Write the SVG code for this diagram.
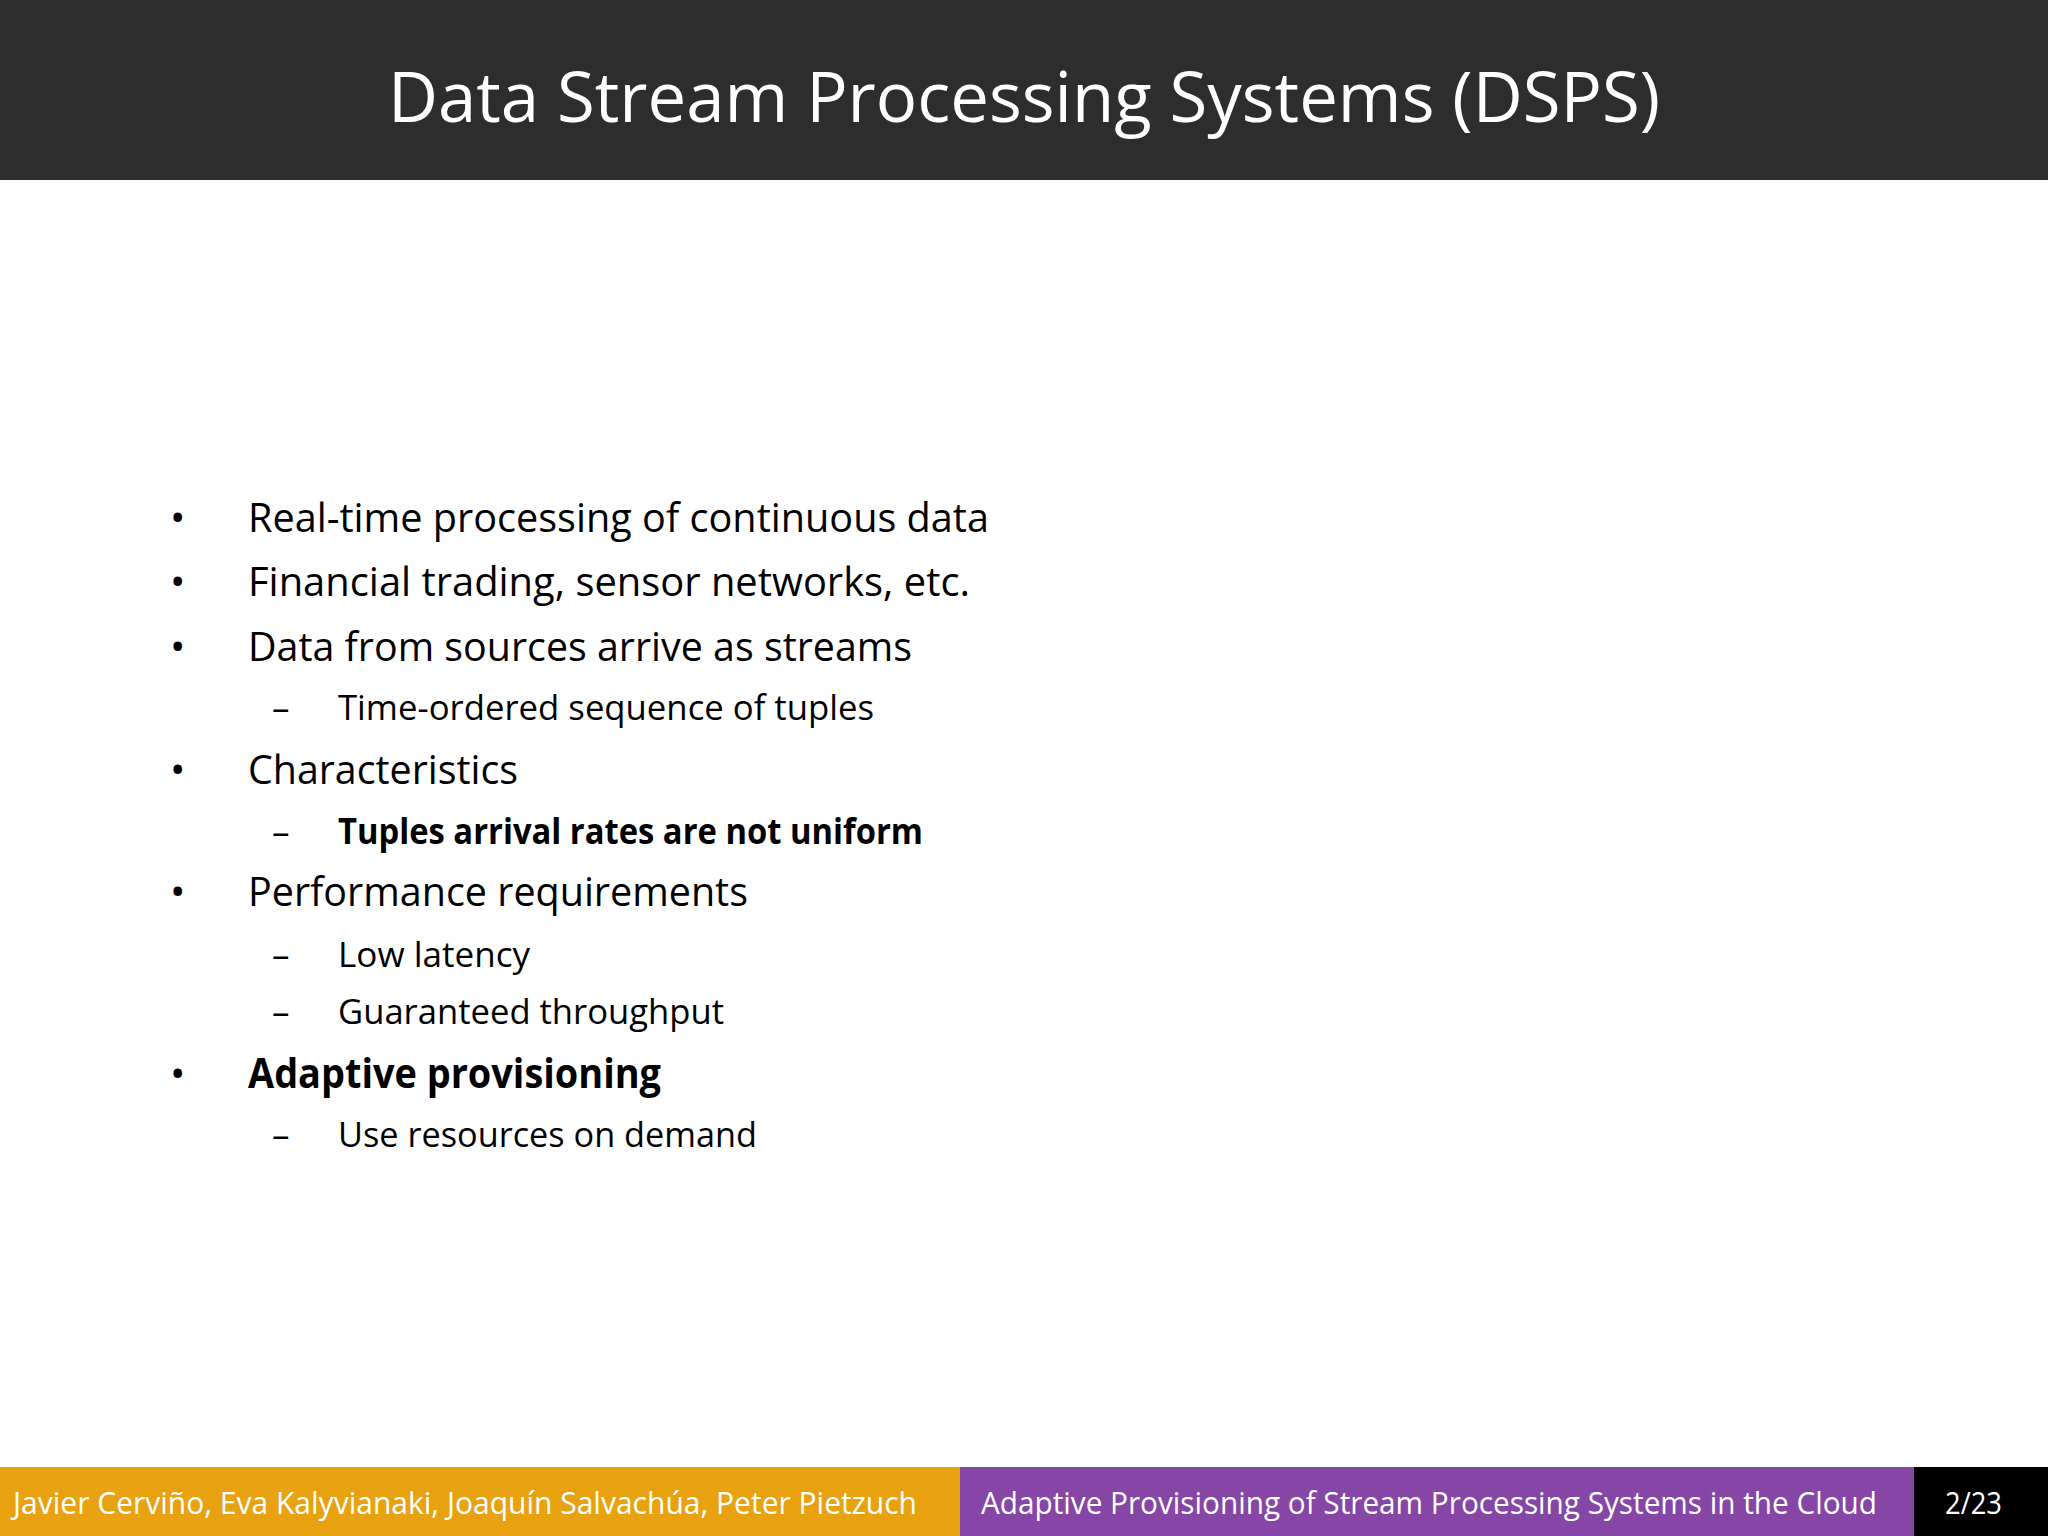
<svg xmlns="http://www.w3.org/2000/svg" width="2048" height="1536" viewBox="0 0 2048 1536">
<style>
text{font-family:"Open Sans","Noto Sans",sans-serif;}
.b{font-size:41px;fill:#000}
.s{font-size:35px;fill:#000}
.f{font-size:31px;fill:#fff}
</style>
<rect width="2048" height="1536" fill="#fff"/>
<rect width="2048" height="180" fill="#2d2d2d"/>
<text x="1024" y="122" text-anchor="middle" font-size="70" fill="#fff" textLength="1272" lengthAdjust="spacingAndGlyphs">Data Stream Processing Systems (DSPS)</text>
<g id="bullets">
<text class="b" x="170" y="532">•</text><text class="b" x="248" y="532" textLength="741" lengthAdjust="spacingAndGlyphs">Real-time processing of continuous data</text>
<text class="b" x="170" y="596">•</text><text class="b" x="248" y="596" textLength="722" lengthAdjust="spacingAndGlyphs">Financial trading, sensor networks, etc.</text>
<text class="b" x="170" y="661">•</text><text class="b" x="248" y="661" textLength="664" lengthAdjust="spacingAndGlyphs">Data from sources arrive as streams</text>
<text class="s" x="272" y="720">–</text><text class="s" x="338" y="720" textLength="536" lengthAdjust="spacingAndGlyphs">Time-ordered sequence of tuples</text>
<text class="b" x="170" y="784">•</text><text class="b" x="248" y="784" textLength="270" lengthAdjust="spacingAndGlyphs">Characteristics</text>
<text class="s" x="272" y="844">–</text><text class="s" x="338" y="844" font-weight="bold" textLength="585" lengthAdjust="spacingAndGlyphs">Tuples arrival rates are not uniform</text>
<text class="b" x="170" y="906">•</text><text class="b" x="248" y="906" textLength="500" lengthAdjust="spacingAndGlyphs">Performance requirements</text>
<text class="s" x="272" y="967">–</text><text class="s" x="338" y="967" textLength="192" lengthAdjust="spacingAndGlyphs">Low latency</text>
<text class="s" x="272" y="1024">–</text><text class="s" x="338" y="1024" textLength="386" lengthAdjust="spacingAndGlyphs">Guaranteed throughput</text>
<text class="b" x="170" y="1088">•</text><text class="b" x="248" y="1088" font-weight="bold" textLength="413" lengthAdjust="spacingAndGlyphs">Adaptive provisioning</text>
<text class="s" x="272" y="1147">–</text><text class="s" x="338" y="1147" textLength="419" lengthAdjust="spacingAndGlyphs">Use resources on demand</text>
</g>
<g id="footer">
<rect x="0" y="1467" width="960" height="69" fill="#e9a20f"/>
<rect x="960" y="1467" width="954" height="69" fill="#8646a6"/>
<rect x="1914" y="1467" width="134" height="69" fill="#000"/>
<text class="f" x="13" y="1514" textLength="904" lengthAdjust="spacingAndGlyphs">Javier Cerviño, Eva Kalyvianaki, Joaquín Salvachúa, Peter Pietzuch</text>
<text class="f" x="981" y="1514" textLength="896" lengthAdjust="spacingAndGlyphs">Adaptive Provisioning of Stream Processing Systems in the Cloud</text>
<text class="f" x="1945" y="1514" textLength="57" lengthAdjust="spacingAndGlyphs">2/23</text>
</g>
</svg>
